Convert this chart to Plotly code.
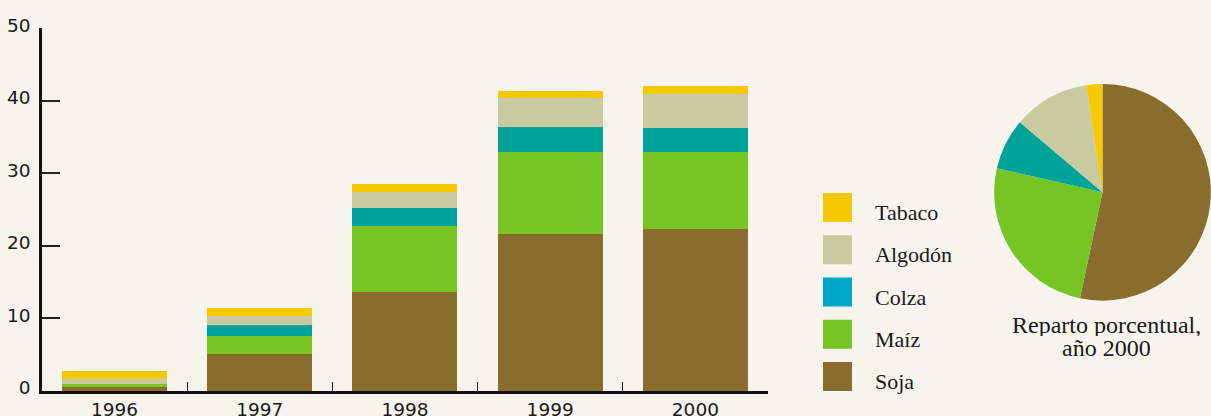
import plotly.graph_objects as go

# ---- data ----
years = ["1996", "1997", "1998", "1999", "2000"]
soja = [0.5, 5.1, 13.6, 21.7, 22.4]
maiz = [0.4, 2.5, 9.1, 11.3, 10.6]
colza = [0.0, 1.5, 2.5, 3.4, 3.2]
algodon = [0.8, 1.3, 2.3, 4.0, 4.8]
tabaco = [1.0, 1.1, 1.1, 1.0, 1.0]
crops = ["Soja", "Maíz", "Colza", "Algodón", "Tabaco"]
y_ticks = [0, 10, 20, 30, 40, 50]
pie_caption = ["Reparto porcentual,", "año 2000"]

# ---- styles ----
W, H = 1211, 416
BG = "#F7F4ED"
bar_colors = ["#886D2F", "#77C425", "#00A398", "#C9CAA0", "#F6C800"]
legend_colors = ["#886D2F", "#77C425", "#00A6C8", "#C9CAA0", "#F6C800"]
series = [soja, maiz, colza, algodon, tabaco]

fig = go.Figure()
for name, vals, col in zip(crops, series, bar_colors):
    fig.add_trace(go.Bar(x=years, y=vals, name=name, marker=dict(color=col, line=dict(width=0)),
                         showlegend=False, hoverinfo="x+y+name"))

pie_vals = [s[-1] for s in series]
fig.add_trace(go.Pie(labels=crops, values=pie_vals, sort=False, direction="clockwise", rotation=0,
                     marker=dict(colors=bar_colors, line=dict(width=0)), textinfo="none",
                     showlegend=False,
                     domain=dict(x=[994 / W, 1.0],
                                 y=[(H - 300.7) / H, (H - 84) / H])))

shapes = []
annotations = []
# custom legend: top to bottom Tabaco ... Soja
for i, (name, col) in enumerate(zip(crops[::-1], legend_colors[::-1])):
    top = 193 + i * 42.25
    shapes.append(dict(type="rect", xref="paper", yref="paper",
                       x0=823 / W, x1=852 / W, y0=1 - (top + 29) / H, y1=1 - top / H,
                       fillcolor=col, line=dict(width=0)))
    annotations.append(dict(xref="paper", yref="paper", x=873 / W, y=1 - (top + 19.5) / H,
                            xanchor="left", yanchor="middle", showarrow=False, text=name,
                            font=dict(family="Liberation Serif", size=22, color="#1a1a1a")))

for j, (txt, yc) in enumerate(zip(pie_caption, [325, 347.5])):
    annotations.append(dict(xref="paper", yref="paper", x=1106 / W, y=1 - yc / H,
                            xanchor="center", yanchor="middle", showarrow=False, text=txt,
                            height=22,
                            font=dict(family="Liberation Serif", size=24, color="#1a1a1a")))

fig.update_layout(
    width=W, height=H,
    margin=dict(l=0, r=0, t=0, b=0),
    paper_bgcolor=BG, plot_bgcolor=BG,
    barmode="stack", bargap=0.277,
    shapes=shapes, annotations=annotations,
    xaxis=dict(domain=[41.9 / W, 768 / W], type="category", range=[-0.5, 4.5],
               showline=True, linecolor="#111", linewidth=2.5,
               ticks="inside", tickson="boundaries", ticklen=9, tickwidth=1.3, tickcolor="#222",
               showgrid=False, zeroline=False, automargin=False,
               tickfont=dict(family="DejaVu Sans", size=18.5, color="#1a1a1a")),
    yaxis=dict(domain=[(H - 391) / H, (H - 28.3) / H], range=[0, 50],
               tickvals=y_ticks, showline=True, linecolor="#111", linewidth=2.5,
               ticks="inside", ticklen=18, tickwidth=1.5, tickcolor="#222",
               ticklabelstandoff=5, ticklabelshift=-3,
               showgrid=False, zeroline=False, automargin=False,
               tickfont=dict(family="DejaVu Sans", size=18.5, color="#1a1a1a")),
)

fig.write_html("out.html")
